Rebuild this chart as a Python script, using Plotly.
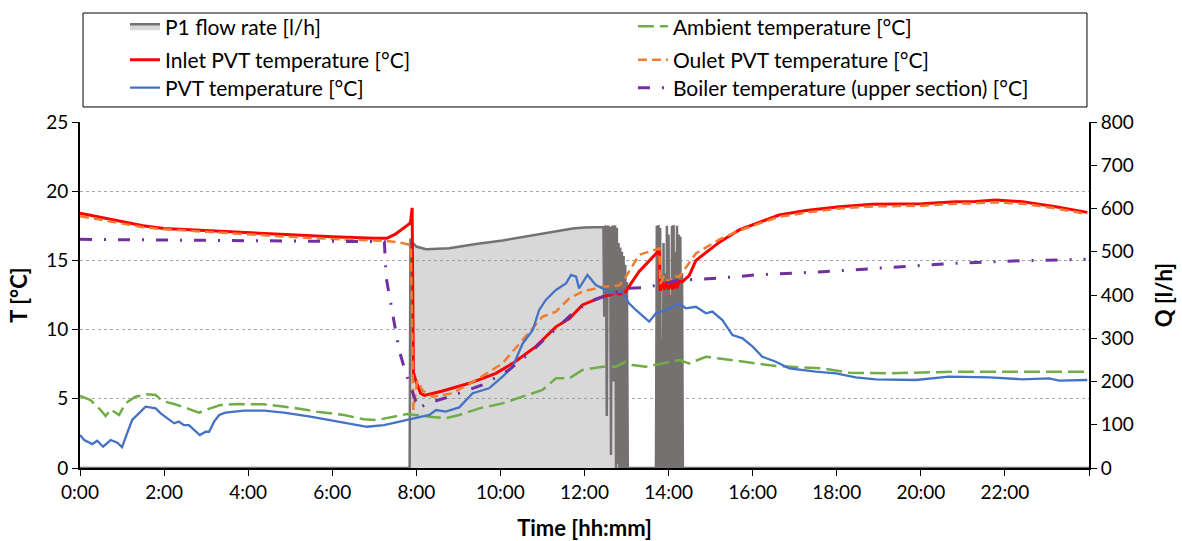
import plotly.graph_objects as go

# ---- P1 flow rate [l/h] (hours since midnight) ----
t_flow = [0, 7.84, 7.86, 7.9, 8.0, 8.23, 8.78, 9.42, 10.05, 10.84, 11.32, 11.72, 12.0, 12.43,
          12.45, 12.47, 12.49, 12.51, 12.53, 12.55, 12.57, 12.59, 12.61, 12.63, 12.65, 12.67,
          12.69, 12.71, 12.73, 12.75, 12.77, 12.79, 12.81, 12.83, 12.85, 12.87, 12.89, 12.91,
          12.93, 12.95, 12.97, 12.99, 13.01, 13.03,
          13.70, 13.72, 13.74, 13.76, 13.78, 13.80, 13.82, 13.84, 13.86, 13.88, 13.90, 13.92,
          13.94, 13.96, 13.98, 14.00, 14.02, 14.04, 14.06, 14.08, 14.10, 14.12, 14.14, 14.16,
          14.18, 14.20, 14.22, 14.24, 14.26, 14.28, 14.30, 14.32, 14.34, 24.0]
q_flow = [0, 0, 530, 522, 512, 506, 508, 518, 526, 539, 546, 554, 556, 557,
          557, 350, 557, 560, 120, 555, 560, 400, 558, 30, 555, 560,
          200, 558, 560, 0, 555, 10, 520, 0, 510, 0, 500, 0,
          490, 0, 470, 0, 430, 0,
          0, 560, 0, 562, 0, 555, 0, 300, 0, 520, 0, 450,
          0, 560, 0, 540, 0, 400, 0, 560, 0, 562, 0, 500,
          0, 560, 0, 540, 0, 535, 0, 450, 0, 0]

# ---- Ambient temperature [°C] ----
t_amb = [0, 0.25, 0.49, 0.61, 0.73, 0.93, 1.08, 1.32, 1.6, 1.8, 1.96, 2.24, 2.55, 2.83, 3.1,
         3.34, 3.74, 4.38, 5.0, 5.64, 6.28, 6.75, 7.07, 7.47, 7.78, 8.31, 8.7, 9.02, 9.5,
         10.05, 10.53, 11.0, 11.32, 11.64, 11.95, 12.43, 12.75, 12.98, 13.14, 13.46, 13.86,
         14.25, 14.49, 14.89, 15.2, 15.52, 15.92, 16.55, 17.66, 18.3, 19.25, 20.83, 22.42, 23.96]
v_amb = [5.2, 4.91, 4.19, 3.76, 4.24, 3.83, 4.67, 5.15, 5.32, 5.27, 4.84, 4.62, 4.31, 4.0, 4.31,
         4.55, 4.62, 4.6, 4.38, 4.07, 3.83, 3.52, 3.47, 3.71, 3.9, 3.71, 3.59, 3.83, 4.31,
         4.67, 5.15, 5.64, 6.48, 6.48, 7.08, 7.32, 7.32, 7.68, 7.44, 7.32, 7.56,
         7.8, 7.56, 8.04, 7.92, 7.8, 7.61, 7.37, 7.2, 6.89, 6.84, 6.96, 6.96, 6.96]

# ---- Inlet PVT temperature [°C] ----
t_in = [0, 0.5, 1.0, 1.5, 2.0, 3.0, 4.0, 5.0, 6.0, 7.0, 7.3, 7.5, 7.7, 7.86, 7.9, 7.93,
        8.0, 8.1, 8.19, 8.6, 9.26, 9.89, 10.29, 10.84, 11.32, 11.64, 11.95, 12.43, 12.6,
        12.75, 12.83, 12.98, 13.1, 13.3, 13.55, 13.78, 13.8, 13.85, 13.9, 13.95, 14.0, 14.05,
        14.1, 14.15, 14.2, 14.25, 14.33, 14.49, 14.65, 14.97, 15.2, 15.68, 16.1, 16.63,
        17.27, 18.06, 18.85, 19.5, 20.04, 20.83, 21.3, 21.78, 22.42, 23.21, 23.96]
v_in = [18.4, 18.1, 17.85, 17.5, 17.3, 17.15, 16.95, 16.8, 16.7, 16.6, 16.6, 16.9, 17.35, 17.7, 18.8, 6.9,
        6.2, 5.4, 5.25, 5.55, 6.12, 6.84, 7.56, 8.77, 10.2, 10.8, 11.78, 12.38, 12.5,
        12.7, 12.55, 12.74, 13.3, 14.2, 15.0, 15.75, 12.8, 13.4, 12.9, 13.5, 12.9, 13.4,
        12.9, 13.5, 13.0, 13.5, 13.46, 13.9, 15.0, 15.75, 16.3, 17.2, 17.7, 18.28,
        18.6, 18.88, 19.05, 19.08, 19.1, 19.24, 19.25, 19.36, 19.24, 18.88, 18.47]

# ---- Outlet PVT temperature [°C] ----
t_out = [0, 0.5, 1.0, 1.5, 2.0, 3.0, 4.0, 5.0, 6.0, 7.0, 7.3, 7.6, 7.87, 7.93, 8.02, 8.15,
         8.38, 8.86, 9.5, 10.05, 10.53, 11.0, 11.32, 11.64, 11.95, 12.43, 12.83, 13.0, 13.3,
         13.78, 13.8, 13.9, 14.0, 14.1, 14.25, 14.49, 14.65, 15.2, 15.68, 16.1, 16.63, 17.27,
         18.06, 18.85, 19.5, 20.04, 20.83, 21.3, 21.78, 22.42, 23.21, 23.96]
v_out = [18.2, 17.95, 17.7, 17.4, 17.25, 17.05, 16.85, 16.7, 16.55, 16.4, 16.4, 16.3, 16.1, 4.2, 6.3, 5.6,
         5.15, 5.4, 6.5, 7.56, 9.25, 10.93, 11.3, 12.26, 12.74, 13.1, 13.2, 13.9, 15.4,
         15.87, 13.3, 13.9, 13.4, 13.9, 13.8, 14.8, 15.5, 16.5, 17.15, 17.6, 18.15, 18.45,
         18.75, 18.9, 18.95, 18.95, 19.1, 19.12, 19.2, 19.1, 18.75, 18.35]

# ---- PVT temperature [°C] ----
t_pvt = [0, 0.1, 0.29, 0.41, 0.55, 0.73, 0.89, 1.0, 1.12, 1.24, 1.4, 1.56, 1.8, 1.92, 2.08,
         2.24, 2.35, 2.47, 2.59, 2.71, 2.85, 2.99, 3.07, 3.19, 3.31, 3.46, 3.9, 4.38, 4.85,
         5.48, 5.96, 6.44, 6.83, 7.23, 7.62, 7.91, 8.31, 8.47, 8.7, 9.02, 9.34, 9.73, 10.05,
         10.29, 10.53, 10.77, 10.92, 11.08, 11.32, 11.56, 11.68, 11.8, 11.87, 12.07, 12.27,
         12.43, 12.59, 12.9, 13.06, 13.22, 13.5, 13.54, 13.7, 13.94, 14.25, 14.41, 14.65,
         14.89, 15.04, 15.28, 15.52, 15.76, 16.0, 16.23, 16.55, 16.87, 17.5, 17.98, 18.45,
         18.93, 19.88, 20.67, 21.62, 22.42, 23.05, 23.29, 23.96]
v_pvt = [2.38, 2.02, 1.73, 1.97, 1.54, 2.02, 1.83, 1.5, 2.5, 3.47, 3.95, 4.43, 4.31, 3.95, 3.59,
         3.23, 3.35, 3.1, 3.1, 2.75, 2.38, 2.62, 2.62, 3.35, 3.83, 4.0, 4.14, 4.14, 4.0,
         3.71, 3.47, 3.23, 2.98, 3.1, 3.35, 3.59, 3.83, 4.19, 4.07, 4.38, 5.4, 5.76, 6.6,
         7.32, 9.0, 9.97, 11.4, 12.14, 12.86, 13.34, 13.95, 13.82, 12.98, 13.95, 13.22,
         12.98, 12.62, 12.74, 11.9, 11.42, 10.69, 10.57, 11.18, 11.42, 11.9, 11.54, 11.65,
         11.18, 11.3, 10.69, 9.6, 9.37, 8.77, 8.04, 7.68, 7.2, 6.96, 6.84, 6.55,
         6.41, 6.36, 6.6, 6.55, 6.41, 6.48, 6.31, 6.36]

# ---- Boiler temperature (upper section) [°C] ----
t_boil = [0, 7.24, 7.28, 7.43, 7.59, 7.75, 7.91, 8.05, 8.27, 8.78, 9.57, 10.2, 10.69, 11.32,
          11.72, 12.11, 12.59, 12.9, 12.98, 13.46, 14.25, 14.73, 15.6, 16.08, 17.66, 19.25,
          20.83, 22.42, 23.92]
v_boil = [16.52, 16.35, 13.8, 11.18, 8.53, 6.84, 5.4, 4.3, 4.67, 5.15, 6.0, 7.08, 8.29, 10.1,
          11.18, 12.02, 12.5, 12.86, 12.98, 13.03, 13.58, 13.63, 13.82, 13.95, 14.18, 14.5,
          14.79, 14.98, 15.08]

hour_ticks = list(range(0, 25, 2))
hour_labels = [f"{h}:00" for h in range(0, 24, 2)] + [""]

FONT = "Lato"
TICKFONT = dict(family=FONT, size=19, color="black")

fig = go.Figure()

fig.add_trace(go.Scatter(
    x=t_flow, y=q_flow, name="P1 flow rate [l/h]", mode="lines",
    line=dict(color="#767171", width=2.5), fill="tozeroy",
    fillcolor="rgba(150,148,150,0.36)", yaxis="y", legend="legend"))
fig.add_trace(go.Scatter(
    x=t_amb, y=v_amb, name="Ambient temperature [°C]", mode="lines",
    line=dict(color="#70AD47", width=2.5, dash="16px,6px"), yaxis="y2", legend="legend2"))
fig.add_trace(go.Scatter(
    x=t_in, y=v_in, name="Inlet PVT temperature [°C]", mode="lines",
    line=dict(color="#FF0000", width=3), yaxis="y2", legend="legend3"))
fig.add_trace(go.Scatter(
    x=t_out, y=v_out, name="Oulet PVT temperature [°C]", mode="lines",
    line=dict(color="#ED7D31", width=2.5, dash="9px,5px"), yaxis="y2", legend="legend4"))
fig.add_trace(go.Scatter(
    x=t_pvt, y=v_pvt, name="PVT temperature [°C]", mode="lines",
    line=dict(color="#4472C4", width=2.3), yaxis="y2", legend="legend5"))
fig.add_trace(go.Scatter(
    x=t_boil, y=v_boil, name="Boiler temperature (upper section) [°C]", mode="lines",
    line=dict(color="#7030A0", width=3, dash="12px,12px,2px,12px"), yaxis="y2",
    legend="legend6"))

# legend grid: two columns, three rows, framed by a rectangle above the plot
col_x = [0.0446, 0.548]
row_y = [1.2754, 1.1792, 1.0983]


def legend_at(col, row):
    return dict(orientation="h", xanchor="left", yanchor="middle", x=col_x[col], y=row_y[row],
                bgcolor="rgba(0,0,0,0)", borderwidth=0,
                font=dict(family=FONT, size=21, color="black"))


fig.update_layout(
    width=1182, height=541,
    margin=dict(l=80, r=93, t=122, b=73, autoexpand=False),
    paper_bgcolor="white", plot_bgcolor="white",
    font=dict(family=FONT, size=18, color="black"),
    showlegend=True,
    legend=legend_at(0, 0), legend2=legend_at(1, 0),
    legend3=legend_at(0, 1), legend4=legend_at(1, 1),
    legend5=legend_at(0, 2), legend6=legend_at(1, 2),
    xaxis=dict(range=[0, 24], tickvals=hour_ticks, ticktext=hour_labels, tickfont=TICKFONT,
               ticks="outside", ticklen=6, tickcolor="black", showline=True,
               linecolor="black", linewidth=1.5, showgrid=False, zeroline=False,
               title=dict(text="<b>Time [hh:mm]</b>", standoff=19)),
    yaxis=dict(range=[0, 800], dtick=100, side="right", showgrid=False, zeroline=False,
               showline=True, linecolor="black", linewidth=2, ticks="outside", ticklen=6,
               tickcolor="black", tickfont=TICKFONT,
               title=dict(text="<b>Q [l/h]</b>", standoff=24)),
    yaxis2=dict(range=[0, 25], dtick=5, side="left", overlaying="y", showgrid=True,
                gridcolor="#a6a6a6", griddash="dot", gridwidth=1, zeroline=False,
                showline=True, linecolor="black", linewidth=2, ticks="outside", ticklen=6,
                tickcolor="black", tickfont=TICKFONT,
                title=dict(text="<b>T [°C]</b>", standoff=12)),
    shapes=[dict(type="rect", xref="paper", yref="paper", x0=0.003, x1=0.998,
                 y0=1.0434, y1=1.315, line=dict(color="black", width=1),
                 fillcolor="rgba(0,0,0,0)", layer="above")],
)

fig.write_html("out.html")
